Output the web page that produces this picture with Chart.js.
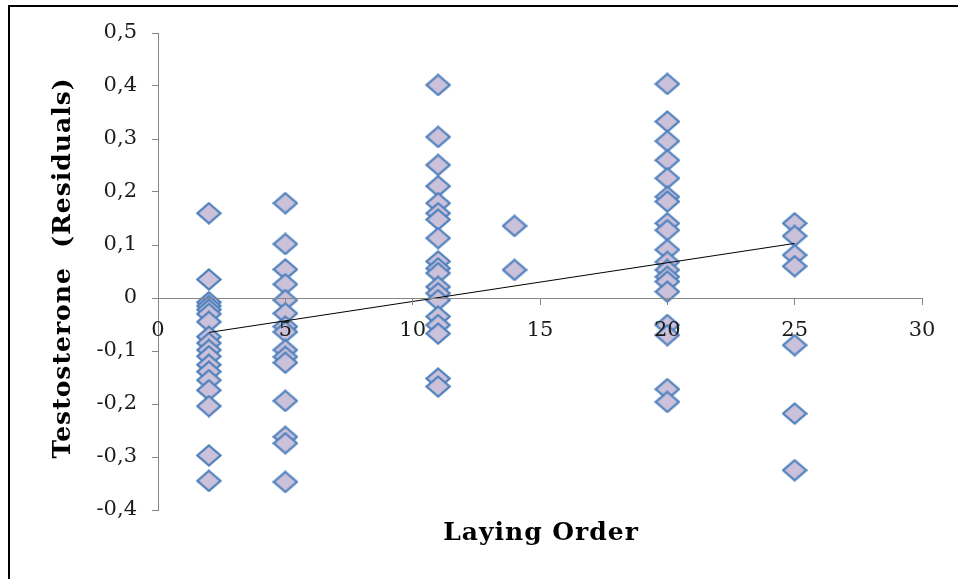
<!DOCTYPE html>
<html>
<head>
<meta charset="utf-8">
<script src="https://cdn.jsdelivr.net/npm/chart.js@4.4.1/dist/chart.umd.min.js"></script>
<style>
  html, body { margin: 0; padding: 0; background: #fff; }
  #wrap { width: 958px; height: 579px; position: relative; }
</style>
</head>
<body>
<div id="wrap"><canvas id="c" width="958" height="579"></canvas></div>
<script>
// Laying order values (x) and residuals per laying order group (y)
const layingOrders = [2, 5, 11, 14, 20, 25];
const residuals2  = [0.160, 0.035, -0.008, -0.015, -0.022, -0.030, -0.045, -0.073, -0.085, -0.098, -0.110, -0.126, -0.139, -0.155, -0.174, -0.204, -0.297, -0.345];
const residuals5  = [0.179, 0.102, 0.054, 0.026, -0.004, -0.029, -0.054, -0.064, -0.098, -0.111, -0.122, -0.194, -0.262, -0.274, -0.347];
const residuals11 = [0.402, 0.304, 0.251, 0.211, 0.179, 0.160, 0.148, 0.113, 0.069, 0.056, 0.047, 0.021, 0.009, -0.004, -0.035, -0.051, -0.067, -0.152, -0.167];
const residuals14 = [0.136, 0.053];
const residuals20 = [0.404, 0.333, 0.296, 0.260, 0.226, 0.191, 0.182, 0.141, 0.128, 0.091, 0.068, 0.053, 0.040, 0.031, 0.012, -0.051, -0.070, -0.172, -0.196];
const residuals25 = [0.141, 0.117, 0.081, 0.060, -0.089, -0.218, -0.325];
const residualGroups = [residuals2, residuals5, residuals11, residuals14, residuals20, residuals25];

// Linear trend line end points
const trendX = [2, 25];
const trendY = [-0.065, 0.103];

// Axis ticks
const xTicks = [0, 5, 10, 15, 20, 25, 30];
const yTicks = [-0.4, -0.3, -0.2, -0.1, 0, 0.1, 0.2, 0.3, 0.4, 0.5];

const xTitle = 'Laying Order';
const yTitle = 'Testosterone  (Residuals)';

const points = [];
layingOrders.forEach((x, i) => residualGroups[i].forEach(y => points.push({ x, y })));
const trendPoints = trendX.map((x, i) => ({ x, y: trendY[i] }));

// diamond marker
function makeDiamond() {
  const w = 26, h = 23;
  const cv = document.createElement('canvas');
  cv.width = w; cv.height = h;
  const g = cv.getContext('2d');
  g.beginPath();
  g.moveTo(w / 2, 1.5);
  g.lineTo(w - 1.5, h / 2);
  g.lineTo(w / 2, h - 1.5);
  g.lineTo(1.5, h / 2);
  g.closePath();
  g.fillStyle = '#CCC1DA';
  g.fill();
  g.lineWidth = 2.3;
  g.strokeStyle = '#4F81BD';
  g.lineJoin = 'miter';
  g.stroke();
  return cv;
}
const diamond = makeDiamond();

const fmt = v => {
  const r = Math.round(v * 10) / 10;
  if (r === 0) return '0';
  return r.toFixed(1).replace('.', ',');
};

const decor = {
  id: 'decor',
  afterDraw(chart) {
    const ctx = chart.ctx;
    ctx.save();
    // frame (left and top)
    ctx.strokeStyle = '#000';
    ctx.lineWidth = 2;
    ctx.beginPath();
    ctx.moveTo(9, 579);
    ctx.lineTo(9, 6);
    ctx.lineTo(958, 6);
    ctx.stroke();
    // titles
    ctx.fillStyle = '#000';
    ctx.letterSpacing = '1px';
    ctx.font = 'bold 25px "DejaVu Serif"';
    ctx.textAlign = 'center';
    ctx.textBaseline = 'middle';
    ctx.fillText(xTitle, 541, 533);
    ctx.translate(63, 268);
    ctx.rotate(-Math.PI / 2);
    ctx.fillText(yTitle, 0, 0);
    ctx.restore();
  }
};

new Chart(document.getElementById('c'), {
  type: 'scatter',
  data: {
    datasets: [
      {
        type: 'line',
        data: trendPoints,
        borderColor: '#000',
        borderWidth: 1,
        pointRadius: 0,
        fill: false,
        order: 0
      },
      {
        data: points,
        pointStyle: diamond,
        pointRadius: 11,
        order: 1
      }
    ]
  },
  options: {
    responsive: false,
    animation: false,
    events: [],
    layout: { padding: { top: 33, right: 36, bottom: 69, left: 0 } },
    plugins: { legend: { display: false }, tooltip: { enabled: false } },
    scales: {
      x: {
        type: 'linear',
        position: { y: 0 },
        min: 0, max: 30,
        afterFit(s) { s.height = 0; },
        afterBuildTicks(s) { s.ticks = xTicks.map(v => ({ value: v })); },
        grid: { drawOnChartArea: false, drawTicks: true, tickLength: 6, color: '#868686', z: 1 },
        border: { display: true, color: '#868686', width: 1, z: 1 },
        ticks: { z: 1, color: '#1a1a1a', padding: 14, maxRotation: 0, font: { family: 'DejaVu Serif', size: 21 } }
      },
      y: {
        type: 'linear',
        min: -0.4, max: 0.5,
        afterFit(s) { s.width = 158; },
        afterBuildTicks(s) { s.ticks = yTicks.map(v => ({ value: v })); },
        grid: { drawOnChartArea: false, drawTicks: true, tickLength: 6, color: '#868686' },
        border: { display: true, color: '#868686', width: 1 },
        ticks: { color: '#1a1a1a', padding: 15, callback: v => fmt(v), font: { family: 'DejaVu Serif', size: 21 } }
      }
    }
  },
  plugins: [decor]
});
</script>
</body>
</html>
